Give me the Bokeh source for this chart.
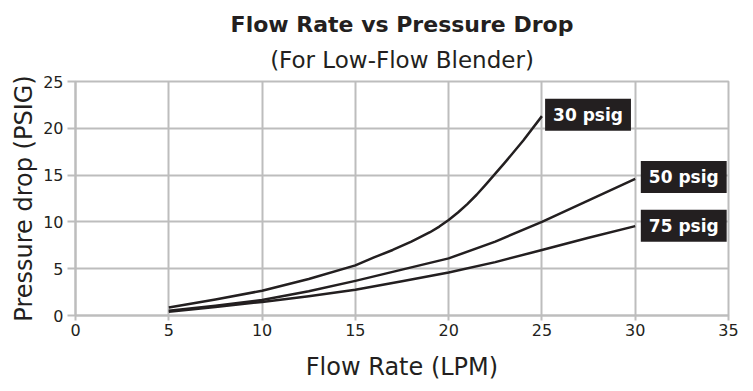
from bokeh.plotting import figure
from bokeh.models import Label, Range1d, FixedTicker, Title
from bokeh.embed import file_html
from bokeh.resources import INLINE

# ---- data ----
x30 = [5, 7.5, 10, 12.5, 15, 16, 17, 18, 19, 19.5, 20, 20.5, 21, 21.5, 22, 23, 24, 25]
y30 = [0.85, 1.7, 2.65, 3.9, 5.35, 6.2, 7.0, 7.9, 8.9, 9.5, 10.2, 11.0, 11.9, 12.9, 14.0, 16.3, 18.7, 21.3]
x50 = [5, 7.5, 10, 12.5, 15, 17.5, 20, 22.5, 25, 27.5, 30]
y50 = [0.5, 1.05, 1.65, 2.6, 3.7, 4.9, 6.1, 7.9, 10.0, 12.3, 14.6]
x75 = [5, 7.5, 10, 12.5, 15, 17.5, 20, 22.5, 25, 27.5, 30]
y75 = [0.4, 0.9, 1.45, 2.05, 2.75, 3.65, 4.6, 5.7, 7.0, 8.3, 9.55]
series_names = ["30 psig", "50 psig", "75 psig"]
x_ticks = [0, 5, 10, 15, 20, 25, 30, 35]
y_ticks = [0, 5, 10, 15, 20, 25]

TITLE = "Flow Rate vs Pressure Drop"
SUBTITLE = "(For Low-Flow Blender)"
XLABEL = "Flow Rate (LPM)"
YLABEL = "Pressure drop (PSIG)"

FONT = "DejaVu Sans"
INK = "#231f20"
GRID = "#bdbdbd"

p = figure(width=745, height=383, output_backend="svg", toolbar_location=None,
           x_range=Range1d(0, 35), y_range=Range1d(0, 25), title=None,
           min_border_left=75, min_border_right=17, min_border_top=81, min_border_bottom=67)
p.outline_line_color = GRID
p.outline_line_width = 2
p.background_fill_color = "white"
p.border_fill_color = "white"

for ax in (p.xaxis, p.yaxis):
    ax.axis_line_color = GRID
    ax.axis_line_width = 2
    ax.major_tick_line_color = GRID
    ax.major_tick_line_width = 2
    ax.minor_tick_line_color = None
    ax.major_tick_in = 0
    ax.major_label_text_font = FONT
    ax.major_label_text_color = INK
    ax.major_label_text_font_size = "16px"
    ax.axis_label_text_font = FONT
    ax.axis_label_text_color = INK
    ax.axis_label_text_font_size = "24px"
    ax.axis_label_text_font_style = "normal"

p.xaxis.ticker = FixedTicker(ticks=x_ticks)
p.yaxis.ticker = FixedTicker(ticks=y_ticks)
p.xaxis.major_tick_out = 5
p.yaxis.major_tick_out = 8
p.xaxis.major_label_standoff = 3
p.yaxis.major_label_standoff = 4
p.xaxis.axis_label = XLABEL
p.yaxis.axis_label = YLABEL
p.xaxis.axis_label_standoff = 14
p.yaxis.axis_label_standoff = 2

for g in (p.xgrid, p.ygrid):
    g.grid_line_color = GRID
    g.grid_line_width = 2
p.xgrid.ticker = FixedTicker(ticks=x_ticks)
p.ygrid.ticker = FixedTicker(ticks=y_ticks)

for xs, ys in ((x30, y30), (x50, y50), (x75, y75)):
    p.line(xs, ys, line_color=INK, line_width=2.5, line_join="round")

# end labels
offsets = [(0.17, 0.15), (0.3, 0.2), (0.3, 0.05)]
for (xs, ys), name, (dx, dy) in zip(((x30, y30), (x50, y50), (x75, y75)), series_names, offsets):
    p.add_layout(Label(x=xs[-1] + dx, y=ys[-1] + dy, text=name,
                       text_align="left", text_baseline="middle",
                       text_font=FONT, text_font_style="bold", text_font_size="17px",
                       text_color="white", background_fill_color=INK,
                       padding=(8, 8, 6, 6)))

# titles (subtitle first = closest to the frame)
p.add_layout(Title(text=SUBTITLE, align="center", text_font=FONT, text_font_size="23px",
                   text_font_style="normal", text_color=INK, standoff=18), "above")
p.add_layout(Title(text=TITLE, align="center", text_font=FONT, text_font_size="22px",
                   text_font_style="bold", text_color=INK, standoff=-3), "above")

open("out.html", "w").write(file_html(p, INLINE))
